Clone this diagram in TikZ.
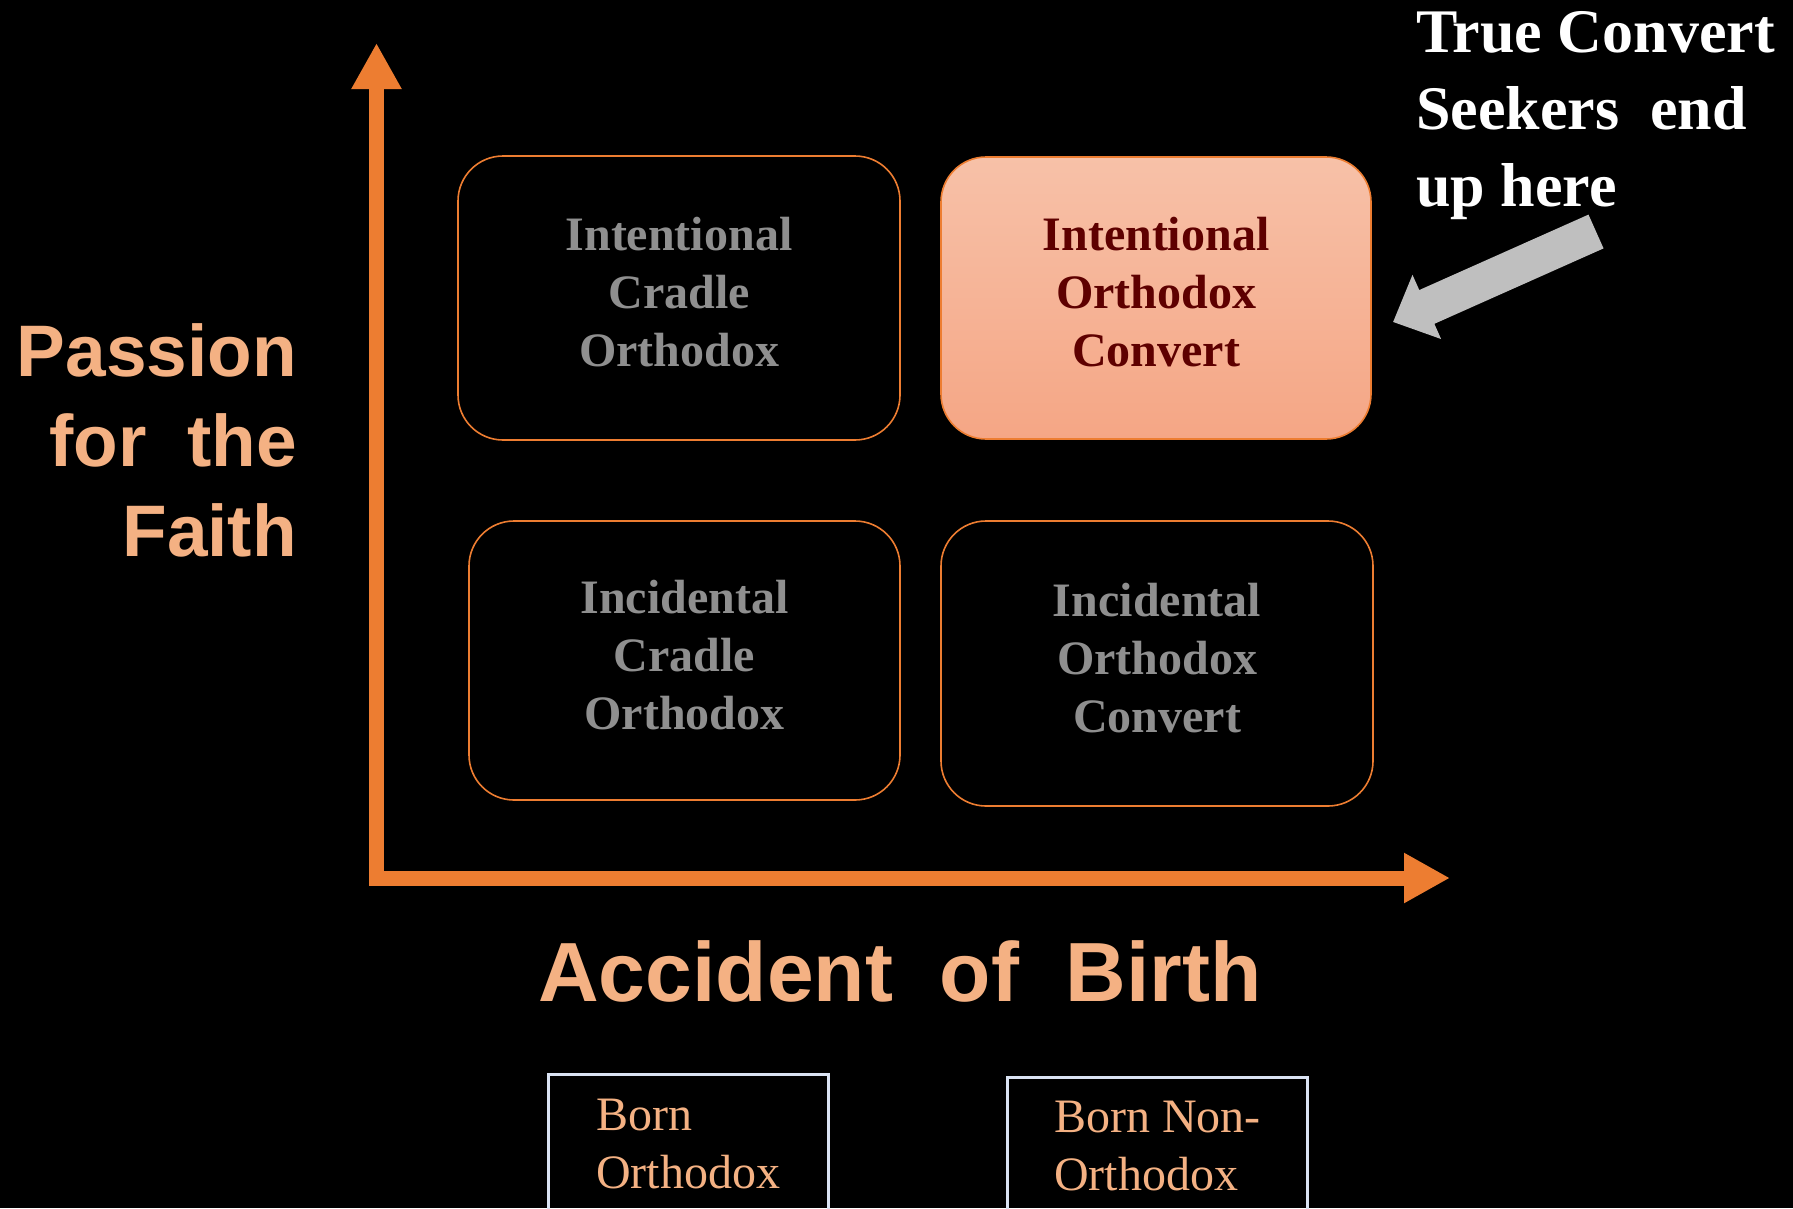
\documentclass[tikz,border=0pt]{standalone}
\usepackage{tikz}
\usepackage{fontspec}
\setmainfont{Liberation Serif}
\setsansfont{Liberation Sans}
\usetikzlibrary{arrows.meta,positioning}
\definecolor{axisorange}{HTML}{ED7D31}
\definecolor{labelorange}{HTML}{F4B183}
\definecolor{cellgray}{HTML}{8F8F8F}
\definecolor{cellred}{HTML}{5E0000}
\definecolor{celltop}{HTML}{F7C1A8}
\definecolor{cellbottom}{HTML}{F5A685}
\definecolor{hintgray}{HTML}{BFBFBF}
\definecolor{bornline}{HTML}{DAE3F3}

\begin{document}
\begin{tikzpicture}[x=1pt,y=-1pt,
    cell/.style={draw=axisorange,line width=1.6pt,rounded corners=45pt,align=center,
        text=cellgray,text depth=12pt,font=\bfseries\fontsize{48}{58}\selectfont},
    bornbox/.style={draw=bornline,line width=2.5pt,minimum height=200pt,anchor=north west},
    borntext/.style={anchor=north west,inner sep=0pt,align=left,text=labelorange,
        font=\fontsize{48}{58}\selectfont}]
        \useasboundingbox (0,0) rectangle (1793,1208);
        \fill[black] (0,0) rectangle (1793,1208);
        % axes
        \coordinate (corner) at (376.5,878);
        \coordinate (ytip) at (376.5,43);
        \coordinate (xtip) at (1450,878);
        \draw[axisorange,line width=15pt,line join=miter,
            {Triangle[length=46pt,width=47pt]}-{Triangle[length=46pt,width=47pt]}]
            (ytip) -- (corner) -- (xtip);
        % the four cells
        \node[cell,minimum width=442pt,minimum height=284pt] (cradleIntent) at (679,298)
            {Intentional\\Cradle\\Orthodox};
        \node[cell,minimum width=430pt,minimum height=282pt,top color=celltop,bottom color=cellbottom,
            text=cellred] (convertIntent) at (1156,298) {Intentional\\Orthodox\\Convert};
        \node[cell,minimum width=431pt,minimum height=279pt] (cradleIncid) at (684.5,660.5)
            {Incidental\\Cradle\\Orthodox};
        \node[cell,minimum width=432pt,minimum height=285pt] (convertIncid) at (1157,663.5)
            {Incidental\\Orthodox\\Convert};
        % axis labels
        \node[anchor=north east,inner sep=0pt,align=right,text=labelorange,
            font=\sffamily\bfseries\fontsize{73}{90}\selectfont] (passion) at (297,323)
            {Passion\\for\ \ the\\Faith};
        \node[anchor=base,inner sep=0pt,text=labelorange,
            font=\sffamily\bfseries\fontsize{84}{100}\selectfont] (birth) at (900,1001)
            {Accident\ \ of\ \ Birth};
        % note and pointer
        \node[anchor=north west,inner sep=0pt,align=left,text=white,
            font=\bfseries\fontsize{62}{77}\selectfont] (seekers) at (1416,11)
            {True Convert\\Seekers\ \ end\\up here};
        \coordinate (hinttail) at (1596,231.5);
        \coordinate (hinttip) at (1393,322);
        \draw[hintgray,line width=37pt,-{Triangle[length=37pt,width=68pt]}] (hinttail) -- (hinttip);
        % birth boxes
        \node[bornbox,minimum width=280pt] (bornOrth) at (547,1073) {};
        \node[borntext] (bornOrthText) at ([xshift=49pt,yshift=-26pt]bornOrth.north west) {Born\\Orthodox};
        \node[bornbox,minimum width=300pt] (bornNon) at (1006,1076) {};
        \node[borntext] (bornNonText) at ([xshift=48pt,yshift=-25pt]bornNon.north west) {Born Non-\\Orthodox};
\end{tikzpicture}
\end{document}
